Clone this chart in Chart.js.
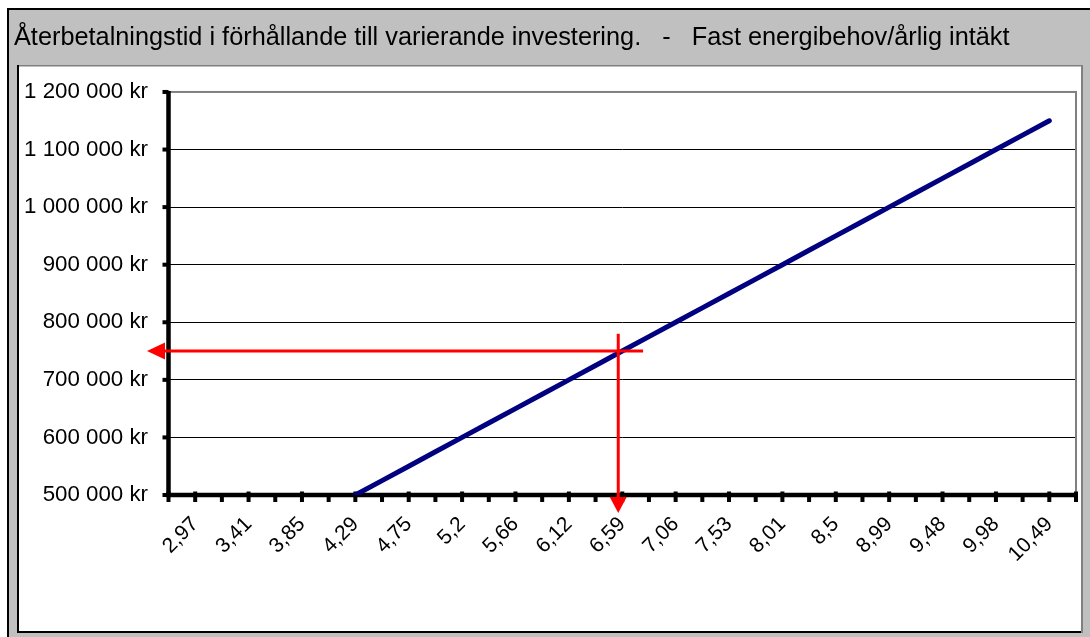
<!DOCTYPE html>
<html><head><meta charset="utf-8">
<script src="https://cdn.jsdelivr.net/npm/chart.js@4/dist/chart.umd.min.js"></script>
<style>html,body{margin:0;padding:0;background:#fff;}#wrap{width:1090px;height:637px;position:relative;overflow:hidden;}</style>
</head><body><div id="wrap"><canvas id="c" width="1090" height="637"></canvas></div>
<script>
const titleText = 'Återbetalningstid i förhållande till varierande investering.   -   Fast energibehov/årlig intäkt';
// payback time categories (years); unlabeled categories left blank
const categories = ['', '2,97', '', '3,41', '', '3,85', '', '4,29', '', '4,75', '', '5,2', '', '5,66', '', '6,12', '', '6,59', '', '7,06', '', '7,53', '', '8,01', '', '8,5', '', '8,99', '', '9,48', '', '9,98', '', '10,49', ''];
// investment (kr)
const investment = [null, null, null, null, null, null, null, 500000, 525000, 550000, 575000, 600000, 625000, 650000, 675000, 700000, 725000, 750000, 775000, 800000, 825000, 850000, 875000, 900000, 925000, 950000, 975000, 1000000, 1025000, 1050000, 1075000, 1100000, 1125000, 1150000, null];
const yTicks = [500000, 600000, 700000, 800000, 900000, 1000000, 1100000, 1200000];
// reading marked with red arrows
const markerIndex = 16.85;
const markerValue = 750000;
const markerTopValue = 780000;
const markerRightIndex = 17.78;

function fmtKr(v) {
  return String(v).replace(/\B(?=(\d{3})+(?!\d))/g, ' ') + ' kr';
}

const frame = {
  id: 'frame',
  beforeDraw(chart) {
    const ctx = chart.ctx;
    ctx.save();
    ctx.fillStyle = '#ffffff'; ctx.fillRect(0, 0, 1090, 637);
    ctx.fillStyle = '#c0c0c0'; ctx.fillRect(8, 9, 1082, 628);
    ctx.fillStyle = '#000000';
    ctx.fillRect(7, 8, 1083, 2);
    ctx.fillRect(7, 8, 2, 629);
    ctx.fillStyle = '#ffffff'; ctx.fillRect(18, 66, 1064, 566);
    ctx.fillStyle = '#808080';
    ctx.fillRect(17, 65, 1066, 1.5);
    ctx.fillRect(1081, 65, 2, 568);
    ctx.fillStyle = '#000000';
    ctx.fillRect(17, 65, 2, 568);
    ctx.fillRect(17, 631, 1064, 2);
    ctx.restore();
  },
  beforeDatasetsDraw(chart) {
    const ctx = chart.ctx, xs = chart.scales.x, ys = chart.scales.y;
    const L = xs.getPixelForValue(0), R = xs.getPixelForValue(categories.length - 1);
    const T = ys.getPixelForValue(yTicks[yTicks.length - 1]), B = ys.getPixelForValue(yTicks[0]);
    ctx.save();
    ctx.fillStyle = '#808080';
    ctx.fillRect(L, T - 1, R - L + 1, 2);
    ctx.fillRect(R - 1, T - 1, 2, B - T + 1);
    ctx.fillStyle = '#000000';
    ctx.fillRect(L - 2.25, T - 1, 4.5, B - T + 3);
    ctx.fillRect(L - 2.25, B - 2.25, R - L + 2.5, 4.5);
    yTicks.forEach(v => { const y = ys.getPixelForValue(v); ctx.fillRect(L - 6, y - 2, 6, 4); });
    categories.forEach((c, i) => {
      const x = xs.getPixelForValue(i);
      if (c !== '' || i === 0 || i === categories.length - 1) ctx.fillRect(x - 2, B - 3.5, 4, 10.5);
      else ctx.fillRect(x - 2, B + 1, 4, 6);
    });
    ctx.restore();
  },
  afterDraw(chart) {
    const ctx = chart.ctx, xs = chart.scales.x, ys = chart.scales.y;
    const L = xs.getPixelForValue(0), B = ys.getPixelForValue(yTicks[0]);
    const mx = xs.getPixelForValue(markerIndex), my = ys.getPixelForValue(markerValue);
    const top = ys.getPixelForValue(markerTopValue), right = xs.getPixelForValue(markerRightIndex);
    ctx.save();
    ctx.strokeStyle = '#ff0000'; ctx.fillStyle = '#ff0000'; ctx.lineWidth = 3;
    const hTip = L - 21.5;
    ctx.beginPath(); ctx.moveTo(right, my); ctx.lineTo(hTip + 16, my); ctx.stroke();
    ctx.beginPath(); ctx.moveTo(hTip, my); ctx.lineTo(hTip + 18, my - 8.5); ctx.lineTo(hTip + 18, my + 8.5); ctx.closePath(); ctx.fill();
    const vTip = B + 18;
    ctx.beginPath(); ctx.moveTo(mx, top); ctx.lineTo(mx, vTip - 14); ctx.stroke();
    ctx.beginPath(); ctx.moveTo(mx, vTip); ctx.lineTo(mx - 8.5, vTip - 16); ctx.lineTo(mx + 8.5, vTip - 16); ctx.closePath(); ctx.fill();
    ctx.restore();
  }
};

new Chart(document.getElementById('c'), {
  type: 'line',
  data: {
    labels: categories,
    datasets: [{
      data: investment,
      borderColor: '#000080',
      borderWidth: 5,
      borderCapStyle: 'round',
      pointRadius: 0,
      tension: 0,
      fill: false,
      clip: {left: 5, top: 5, right: 5, bottom: 0}
    }]
  },
  options: {
    responsive: false,
    devicePixelRatio: 1,
    animation: false,
    layout: {padding: {left: 14, right: 14, top: 0, bottom: 0}},
    plugins: {
      legend: {display: false},
      tooltip: {enabled: false},
      title: {
        display: true,
        text: titleText,
        align: 'start',
        color: '#000000',
        font: {family: '"Liberation Sans", Arial, sans-serif', size: 25.3, weight: 'normal'},
        padding: {top: 22.5, bottom: 39.1}
      }
    },
    scales: {
      x: {
        type: 'category',
        offset: false,
        grid: {display: false, drawTicks: false},
        border: {display: false},
        ticks: {
          autoSkip: false, maxRotation: 45, minRotation: 45, padding: 17,
          color: '#000000',
          font: {family: '"Liberation Sans", Arial, sans-serif', size: 21},
          callback: (v, i) => categories[i]
        },
        afterFit: s => { s.height = 142; s.paddingLeft = 0; s.paddingRight = 0; }
      },
      y: {
        min: yTicks[0], max: yTicks[yTicks.length - 1],
        afterBuildTicks: s => { s.ticks = yTicks.map(v => ({value: v})); },
        grid: {color: '#000000', lineWidth: 1, drawTicks: false},
        border: {display: false},
        ticks: {
          padding: 20.5, color: '#000000',
          font: {family: '"Liberation Sans", Arial, sans-serif', size: 22.3},
          callback: v => fmtKr(v)
        },
        afterFit: s => { s.width = 154.5; s.paddingTop = 0; s.paddingBottom = 0; }
      }
    }
  },
  plugins: [frame]
});
</script>
</body></html>
